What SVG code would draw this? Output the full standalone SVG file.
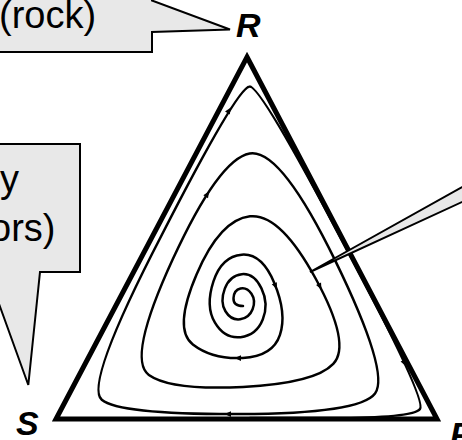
<svg xmlns="http://www.w3.org/2000/svg" width="462" height="440" viewBox="0 0 462 440">
<style>
.orbit{fill:none;stroke:#000;stroke-width:2.5;stroke-linecap:round;stroke-linejoin:round}
.tri{fill:none;stroke:#000;stroke-width:5;stroke-linejoin:miter}
.call{fill:#e8e8e8;stroke:#000;stroke-width:2;stroke-linejoin:miter}
.txt{font-family:"Liberation Sans",Arial,sans-serif;font-size:38px;fill:#000}
.lbl{font-family:"Liberation Sans",Arial,sans-serif;font-size:34px;font-weight:bold;font-style:italic;fill:#000}
.ah{fill:#000}
</style>
<defs>
<path id="arr" class="ah" d="M3.5,0 L-3,-2.8 L-3,2.8 Z"/>
</defs>
<rect width="462" height="440" fill="#fff"/>
<g id="connectors">
<path id="spiral" class="orbit" d="M 243 306 Q 233 306 233.5 298 Q 234 290 240.45 288.5
Q 246.9 287 251.45 293.75 Q 256 300.5 252.6 309.25 Q 249.2 318 240.15 319.25
Q 231.1 320.5 225.45 311.25 Q 219.8 302 224.8 288.65 Q 229.8 275.3 241.85 274.15
Q 253.9 273 261.45 288.4 Q 269 303.8 262.75 319.55 Q 256.5 335.3 240.6 337.15
Q 224.7 339 214.95 322.65 Q 205.2 306.3 213.45 281.3 Q 221.7 256.3 241.75 254.65
Q 261.8 253 274.4 283.15 Q 287 313.3 279.95 334.8 Q 272.9 356.3 242.75 357.9
Q 212.6 359.5 192.85 344.4 Q 173.1 329.3 196.55 274.5 Q 220 219.7 250 216.35
Q 280 213 315.75 278.75 Q 351.5 344.5 333.25 363.9 Q 315 383.3 243 386.9
Q 171 390.5 148.85 374.9 Q 126.7 359.3 172.85 259.1 Q 219 158.9 249.7 153.45
Q 280.4 148 335.25 260.65 Q 390.1 373.3 375.05 393.5 Q 360 413.7 239.75 414.1
Q 119.5 414.5 101.75 399.75 Q 84 385 161.5 235.5 Q 237 88 249.5 86.5
Q 260 85 343.5 243 Q 427 400 420 409 Q 413 418 331.5 418 L 250 418"/>
<use href="#arr" transform="translate(207.3,194.2) rotate(-57)"/>
<use href="#arr" transform="translate(229,110.5) rotate(-58)"/>
<use href="#arr" transform="translate(319.9,286.5) rotate(63)"/>
<use href="#arr" transform="translate(275.5,286) rotate(67)"/>
<use href="#arr" transform="translate(238,358.1) rotate(180)"/>
<use href="#arr" transform="translate(228,414.1) rotate(180)"/>
<use href="#arr" transform="translate(404.4,363) rotate(65)"/>
</g>
<g id="simplex">
<path class="tri" d="M 247 57 L 437 419 L 56 419 Z"/>
</g>
<g id="callout-rock">
<path class="call" d="M -10 52 L 152 52 L 152 32 L 230 29.5 L 152 0.5 L 152 -10 L -10 -10 Z"/>
<text class="txt" x="-1" y="28">(rock)</text>
</g>
<g id="callout-left">
<path class="call" d="M -20 144 L 80 144 L 80 272 L 40 272 L 28.3 385 L -12.5 272 L -20 272 Z"/>
<text class="txt" x="19" y="192" text-anchor="end">y</text>
<text class="txt" x="55.5" y="241" text-anchor="end">ors)</text>
</g>
<g id="callout-right">
<path class="call" d="M 310 272 L 480 177 L 480 193.7 Z"/>
</g>
<g id="label-R"><text class="lbl" x="236" y="37">R</text></g>
<g id="label-S"><text class="lbl" x="16" y="435">S</text></g>
<g id="label-P"><text class="lbl" x="450" y="446">P</text></g>
</svg>
